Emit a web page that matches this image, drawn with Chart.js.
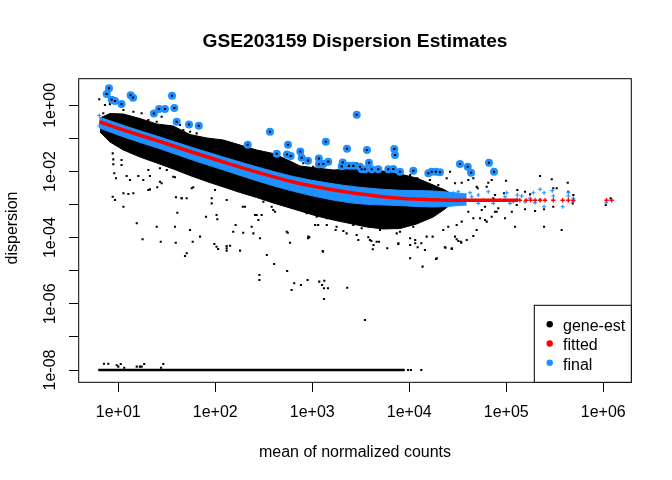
<!DOCTYPE html>
<html>
<head>
<meta charset="utf-8">
<title>GSE203159 Dispersion Estimates</title>
<script src="https://cdn.jsdelivr.net/npm/chart.js@4.4.1/dist/chart.umd.min.js"></script>
<style>
  html, body { margin: 0; padding: 0; background: #fff; }
  canvas { display: block; }
</style>
</head>
<body>
<canvas id="disp" width="672" height="480"></canvas>
<script>
const FONT = '"Liberation Sans", Arial, sans-serif';
const RED = '#FF0000';
const BLUE = '#1E90FF';

const title = 'GSE203159 Dispersion Estimates';
const xTitle = 'mean of normalized counts';
const yTitle = 'dispersion';
const xDecades = [1, 2, 3, 4, 5, 6];
const yDecades = [0, -1, -2, -3, -4, -5, -6, -7, -8];
const yLabelled = [0, -2, -4, -6, -8];
const legendNames = ['gene-est', 'fitted', 'final'];

// gene-est: dense part of the cloud, read as upper / lower edge
const coreX  = [6.47, 8.21, 11.26, 16.7, 24.9, 36.9, 54.8, 81.5, 121, 180, 267, 396, 589, 747, 1109, 1644, 2448, 3638, 5395, 8017, 11910, 17660, 23330, 28200];
const coreHi = [0.413, 0.565, 0.546, 0.399, 0.272, 0.237, 0.131, 0.1028, 0.0894, 0.0631, 0.0446, 0.0349, 0.0207, 0.01465, 0.01274, 0.01109, 0.01188, 0.01109, 0.01034, 0.00839, 0.00635, 0.0039, 0.00276, 0.00195];
const coreLo = [0.156, 0.0778, 0.0446, 0.0274, 0.01805, 0.01188, 0.00756, 0.00498, 0.0034, 0.002316, 0.001636, 0.001115, 0.000788, 0.000639, 0.000451, 0.000342, 0.000268, 0.00021, 0.000183, 0.000189, 0.000259, 0.000421, 0.000735, 0.001196];

// gene-est: genes sitting on the minimum dispersion (1e-08)
const minDispX = [6.22, 8970];
const minDispY = [1e-8, 1e-8];

// gene-est: single genes away from the dense part
const geneEst = [
  [6.37, 1.52], [7.29, 1.02], [8.21, 1.09], [11.3, 0.721], [17.4, 0.573], [20.4, 0.36], [24.9, 0.319], [28.0, 0.452],
  [34.1, 0.226], [46.8, 0.179], [54.9, 0.159], [64.3, 0.142], [78.3, 0.101], [103, 0.0794], [131, 0.071], [153, 0.0502],
  [211, 0.0354], [267, 0.0315], [339, 0.028], [430, 0.0198], [413, 0.0396], [7.0, 0.573], [14.3, 0.641], [43.3, 0.254],
  [808, 0.0177], [1020, 0.01395], [1930, 0.01108], [2870, 0.0177], [4610, 0.00881], [5400, 0.00696], [6840, 0.00553],
  [24300, 0.00622], [29600, 0.00439], [34700, 0.00458], [40600, 0.00553], [45700, 0.00622], [49500, 0.00347], [62800, 0.00347],
  [70700, 0.00553], [73500, 0.00155], [16300, 0.00553], [11900, 0.00439], [12100, 0.00622], [8020, 0.00491], [10200, 0.00782],
  [19900, 0.0039], [26300, 0.00985], [223000, 0.0073], [294000, 0.0058], [430000, 0.00458], [305000, 0.0031], [491000, 0.00195],
  [436000, 0.00245], [176000, 0.00204], [99300, 0.00527], [130000, 0.00276], [94700, 0.00219], [76500, 0.00195], [65200, 0.00458],
  [50700, 0.0031], [156000, 0.00072], [198000, 0.000639], [245000, 0.00072], [305000, 0.000862], [484000, 0.00109], [1190000, 0.00155],
  [1060000, 0.00097], [97000, 0.000385], [123000, 0.000214], [245000, 0.000214], [372000, 0.00017], [60300, 0.000342], [49500, 0.00017],
  [45700, 0.000112], [34100, 0.0000755], [30800, 0.0000892], [27400, 0.0000477], [76500, 0.000609], [114000, 0.000609], [82700, 0.000772],
  [128000, 0.00097], [156000, 0.00245], [331000, 0.0031],
  [931, 0.000103], [1280, 0.0000395], [3930, 0.000085], [4200, 0.0000445], [10200, 0.0000238], [19200, 0.0000238], [23300, 0.0000511],
  [17400, 0.000107], [29600, 0.000107], [30800, 0.000241], [34700, 0.000304], [39100, 0.000085], [53600, 0.000385], [55800, 0.000685],
  [62800, 0.000304], [70700, 0.00043], [79600, 0.000609], [60300, 0.000862], [45700, 0.000385], [40600, 0.000609], [25200, 0.000214],
  [22400, 0.00017], [15100, 0.000107], [11500, 0.000085], [7700, 0.0000675], [5930, 0.0000477], [4870, 0.0000755], [2980, 0.000085],
  [8.88, 0.0233], [8.88, 0.0165], [10.8, 0.0222], [9.09, 0.00881], [9.47, 0.00622], [12.2, 0.0073], [16.1, 0.0073], [8.76, 0.00173],
  [9.25, 0.00137], [11.3, 0.000862], [12.7, 0.00209], [14.3, 0.00219], [15.5, 0.000272], [17.8, 0.0000892], [21.2, 0.00289], [25.2, 0.00333],
  [26.9, 0.00491], [24.9, 0.000214], [27.4, 0.0000755], [38.4, 0.000214], [40.6, 0.000568], [39.3, 0.00166], [45.0, 0.00155], [59.3, 0.00333],
  [58.5, 0.0000755], [80.2, 0.00043], [91.8, 0.00155], [97.7, 0.0000643], [105, 0.000359], [131, 0.000056], [162, 0.000241], [192, 0.000862],
  [194, 0.000141], [247, 0.000135], [267, 0.000484], [301, 0.000484], [396, 0.000685], [558, 0.000141], [910, 0.000107], [1070, 0.000241],
  [1410, 0.000241], [1740, 0.00017], [2090, 0.000159], [2650, 0.000241], [20.4, 0.01108], [21.2, 0.0073], [31.6, 0.01108], [38.4, 0.00667],
  [50.7, 0.01108], [8.76, 0.0354], [10.8, 0.0157], [13.2, 0.00553], [18.1, 0.00553], [20.4, 0.00276], [28.0, 0.00439], [26.9, 0.01248],
  [36.9, 0.00696], [50.7, 0.00155], [57.1, 0.0031], [11.3, 0.00219],
  [45.0, 0.00155], [91.8, 0.00109], [99.3, 0.00276], [153, 0.000151], [202, 0.000862], [257, 0.000484], [278, 0.000342], [313, 0.00122],
  [381, 0.000862], [413, 0.000609], [54.9, 0.00017], [103, 0.0000533], [131, 0.0000477], [237, 0.000214], [289, 0.0000956], [545, 0.000151],
  [589, 0.0000704], [905, 0.0000956], [1150, 0.000241], [876, 0.000545], [1110, 0.00043], [1410, 0.000385], [1780, 0.000214], [2260, 0.000135],
  [2870, 0.00012], [3780, 0.000103], [4610, 0.0000755], [4990, 0.00017], [7420, 0.000135], [10200, 0.0000956], [11000, 0.000214],
  [6320, 0.000241], [8020, 0.000151], [3230, 0.000192], [103, 0.000484], [131, 0.00137], [194, 0.00276], [69.6, 0.000107],
  [39.1, 0.0000704], [50.7, 0.0000337], [48.7, 0.0000279], [107, 0.0000454], [142, 0.0000571], [131, 0.0000404], [180, 0.0000404],
  [285, 7.44e-6], [285, 5.26e-6], [340, 0.0000299], [405, 0.000016], [551, 9.83e-6], [612, 2.62e-6], [651, 4.18e-6], [763, 3.71e-6],
  [894, 5.26e-6], [1180, 4.67e-6], [1330, 5.0e-6], [1260, 3.71e-6], [1320, 2.95e-6], [1450, 2.95e-6], [1320, 1.4e-6], [2290, 3.07e-6],
  [1290, 0.0000376], [3490, 3.25e-7], [4280, 0.00006], [4060, 0.0000793], [7720, 0.0000643], [10200, 0.00006], [11500, 0.0000675],
  [12200, 0.0000511], [13300, 0.0000675], [14500, 0.0000424], [13700, 0.0000133], [18900, 0.0000227], [23600, 0.0000497],
  [27400, 0.0000454], [32100, 0.0000793], [34400, 0.0000704],
  [7.12, 1.55e-8], [7.89, 1.55e-8], [9.63, 1.39e-8], [10.0, 1.26e-8], [10.6, 1.52e-8], [11.5, 1.17e-8], [15.5, 1.26e-8], [16.7, 1.26e-8],
  [17.4, 1.26e-8], [18.5, 1.52e-8], [27.6, 1.17e-8], [29.1, 1.52e-8], [9700, 1e-8], [10400, 1e-8], [13300, 1e-8]
];

// fitted trend
const fitX = [6.37, 12.2, 26.9, 59.3, 131, 289, 637, 1406, 2871, 8017, 17660, 39080, 131800];
const fitY = [0.319, 0.167, 0.0805, 0.0375, 0.01805, 0.009, 0.00481, 0.003, 0.00216, 0.00155, 0.0014, 0.00135, 0.00135];
const fitTailX = [138000, 160000, 178000, 198000, 223000, 251000, 305000, 381000, 436000, 491000, 1080000, 1220000];
const fitTailY = [0.00135, 0.00135, 0.00135, 0.00135, 0.00135, 0.00135, 0.00135, 0.00135, 0.00135, 0.00135, 0.00135, 0.00135];

// final estimates: band around the trend, then single genes
const finalX  = [6.37, 12.2, 26.9, 59.3, 131, 289, 637, 1406, 2871, 8017, 17660, 39080];
const finalHi = [0.443, 0.229, 0.11, 0.0519, 0.02555, 0.013, 0.00705, 0.00455, 0.0034, 0.0027, 0.00257, 0.00209];
const finalLo = [0.206, 0.1028, 0.0485, 0.02177, 0.01034, 0.00488, 0.00252, 0.001494, 0.001077, 0.000931, 0.000845, 0.00097];
const finalTail = [
  [6.37, 0.492], [6.37, 0.237], [22400, 0.00173], [24700, 0.00209], [28400, 0.00228], [32000, 0.00245], [36000, 0.00173],
  [42300, 0.00228], [44000, 0.00173], [51400, 0.00195], [51400, 0.00109], [65200, 0.00245], [73500, 0.00109], [86100, 0.00137],
  [97000, 0.00173], [101000, 0.00228], [118000, 0.00122], [130000, 0.00195], [130000, 0.00144], [156000, 0.00122], [176000, 0.00155],
  [190000, 0.00228], [198000, 0.00114], [223000, 0.00289], [223000, 0.00137], [245000, 0.00228], [245000, 0.000862], [298000, 0.00263],
  [305000, 0.00182], [381000, 0.000862], [436000, 0.00228], [436000, 0.00182], [491000, 0.00155], [491000, 0.00122], [1070000, 0.00114],
  [144000, 0.00182], [109000, 0.00109], [57900, 0.00137]
];

// dispersion outliers (circled)
const outliers = [
  [8.02, 3.27], [7.59, 2.2], [8.55, 1.48], [9.25, 1.35], [10.8, 1.09], [13.4, 2.01], [14.2, 1.7], [35.8, 1.95], [37.8, 0.829],
  [30.3, 0.773], [26.3, 0.773], [23.3, 0.565], [40.0, 0.319], [53.6, 0.263], [67.6, 0.242], [366, 0.159], [216, 0.064], [562, 0.064],
  [430, 0.0342], [548, 0.0326], [599, 0.0294], [752, 0.0402], [777, 0.0261], [903, 0.0212], [1170, 0.0247], [1170, 0.0166],
  [1300, 0.0168], [1460, 0.0198], [2060, 0.0187], [2010, 0.0143], [2390, 0.0148], [2650, 0.0148], [1380, 0.0794], [2280, 0.0485],
  [2870, 0.52], [3100, 0.01395], [3840, 0.0184], [3230, 0.01164], [3490, 0.01164], [4100, 0.01164], [4790, 0.01164], [6070, 0.01164],
  [6840, 0.01189], [8020, 0.00985], [11000, 0.01056], [15700, 0.00881], [17000, 0.00985], [18800, 0.00985], [20700, 0.00944],
  [33300, 0.0168], [40000, 0.01395], [43300, 0.00919], [66300, 0.0184], [74700, 0.00985], [3660, 0.0446], [7000, 0.0478], [7120, 0.0315]
];

const pairs = arr => arr.map(([x, y]) => ({x, y}));
const zip = (xs, ys) => xs.map((x, i) => ({x, y: ys[i]}));

function expLabel(e) {
    const s = String(Math.abs(e)).padStart(2, '0');
    return '1e' + (e < 0 ? '-' : '+') + s;
}

// base-graphics look: box, tick labels, titles and legend
const basePlot = {
    id: 'basePlot',
    afterDraw(chart) {
        const {ctx, chartArea: a, scales} = chart;
        ctx.save();
        ctx.strokeStyle = '#000';
        ctx.lineWidth = 1;
        ctx.strokeRect(a.left, a.top, a.right - a.left, a.bottom - a.top);

        ctx.fillStyle = '#000';
        ctx.font = '16px ' + FONT;
        ctx.textAlign = 'center';
        ctx.textBaseline = 'alphabetic';
        xDecades.forEach(function (e) {
            ctx.fillText(expLabel(e), scales.x.getPixelForValue(Math.pow(10, e)), a.bottom + 34.4);
        });
        yLabelled.forEach(function (e) {
            ctx.save();
            ctx.translate(a.left - 23.7, scales.y.getPixelForValue(Math.pow(10, e)));
            ctx.rotate(-Math.PI / 2);
            ctx.fillText(expLabel(e), 0, 0);
            ctx.restore();
        });

        ctx.fillText(xTitle, (a.left + a.right) / 2, a.bottom + 74.2);
        ctx.save();
        ctx.translate(16.7, (a.top + a.bottom) / 2 - 2.5);
        ctx.rotate(-Math.PI / 2);
        ctx.fillText(yTitle, 0, 0);
        ctx.restore();

        ctx.font = 'bold 19.2px ' + FONT;
        ctx.fillText(title, (a.left + a.right) / 2, 46.7);

        // legend, bottom right corner of the plot
        const lx = a.right - 97, ly = a.bottom - 77;
        ctx.fillStyle = '#fff';
        ctx.fillRect(lx, ly, 97, 77);
        ctx.strokeRect(lx, ly, 97, 77);
        const colours = ['#000', RED, BLUE];
        const rows = [19, 38.2, 57.4];
        ctx.font = '16px ' + FONT;
        ctx.textAlign = 'left';
        legendNames.forEach(function (name, i) {
            const cy = ly + rows[i];
            ctx.fillStyle = colours[i];
            ctx.beginPath();
            ctx.arc(lx + 15.4, cy, 3.2, 0, 2 * Math.PI);
            ctx.fill();
            ctx.fillStyle = '#000';
            ctx.fillText(name, lx + 28.7, cy + 6.8);
        });
        ctx.restore();
    }
};

function decadeAxis(decades, min, max, size) {
    return {
        type: 'logarithmic',
        min: min,
        max: max,
        bounds: 'data',
        afterBuildTicks: function (scale) {
            scale.ticks = decades.map(e => ({value: Math.pow(10, e)}));
        },
        afterFit: function (scale) {
            if (scale.isHorizontal()) scale.height = size; else scale.width = size;
        },
        ticks: {display: false, autoSkip: false},
        grid: {drawOnChartArea: false, drawTicks: true, tickLength: 9.6, color: '#000', lineWidth: 1},
        border: {display: false}
    };
}

new Chart(document.getElementById('disp'), {
    type: 'scatter',
    data: {
        datasets: [
            {label: 'gene-est (outliers)', data: pairs(outliers), pointStyle: 'rect', pointRadius: 1.5,
                backgroundColor: '#000', borderWidth: 0, order: 0},
            {label: 'outliers', data: pairs(outliers), pointStyle: 'circle', pointRadius: 3,
                backgroundColor: BLUE, borderColor: BLUE, borderWidth: 2, order: 1},
            {label: 'fitted (tail)', data: zip(fitTailX, fitTailY), pointStyle: 'cross', pointRadius: 2.2,
                borderColor: RED, borderWidth: 1.3, order: 2},
            {type: 'line', label: 'fitted', data: zip(fitX, fitY), borderColor: RED, borderWidth: 3.5,
                pointRadius: 0, fill: false, cubicInterpolationMode: 'monotone', order: 3},
            {label: 'final (tail)', data: pairs(finalTail), pointStyle: 'cross', pointRadius: 2,
                borderColor: BLUE, borderWidth: 1.1, order: 4},
            {type: 'line', label: 'final', data: zip(finalX, finalHi), borderColor: BLUE, borderWidth: 1,
                backgroundColor: BLUE, pointRadius: 0, fill: '+1', cubicInterpolationMode: 'monotone', order: 5},
            {type: 'line', label: 'final (low)', data: zip(finalX, finalLo), borderColor: BLUE, borderWidth: 1,
                pointRadius: 0, fill: false, cubicInterpolationMode: 'monotone', order: 6},
            {label: 'gene-est', data: pairs(geneEst), pointStyle: 'rect', pointRadius: 1.5,
                backgroundColor: '#000', borderWidth: 0, order: 7},
            {type: 'line', label: 'gene-est (minimum)', data: zip(minDispX, minDispY), borderColor: '#000',
                borderWidth: 2.5, pointRadius: 0, fill: false, order: 8},
            {type: 'line', label: 'gene-est (dense)', data: zip(coreX, coreHi), borderColor: '#000', borderWidth: 1,
                backgroundColor: '#000', pointRadius: 0, fill: '+1', order: 9},
            {type: 'line', label: 'gene-est (dense low)', data: zip(coreX, coreLo), borderColor: '#000', borderWidth: 1,
                pointRadius: 0, fill: false, order: 10}
        ]
    },
    options: {
        responsive: false,
        animation: false,
        events: [],
        layout: {padding: {left: 0, top: 78.7, right: 40.7, bottom: 0}},
        scales: {
            x: decadeAxis(xDecades, 3.907, 1944000, 97.7),
            y: decadeAxis(yDecades, 4.25e-9, 6.37, 78.7)
        },
        plugins: {
            legend: {display: false},
            tooltip: {enabled: false},
            title: {display: false}
        }
    },
    plugins: [basePlot]
});
</script>
</body>
</html>
